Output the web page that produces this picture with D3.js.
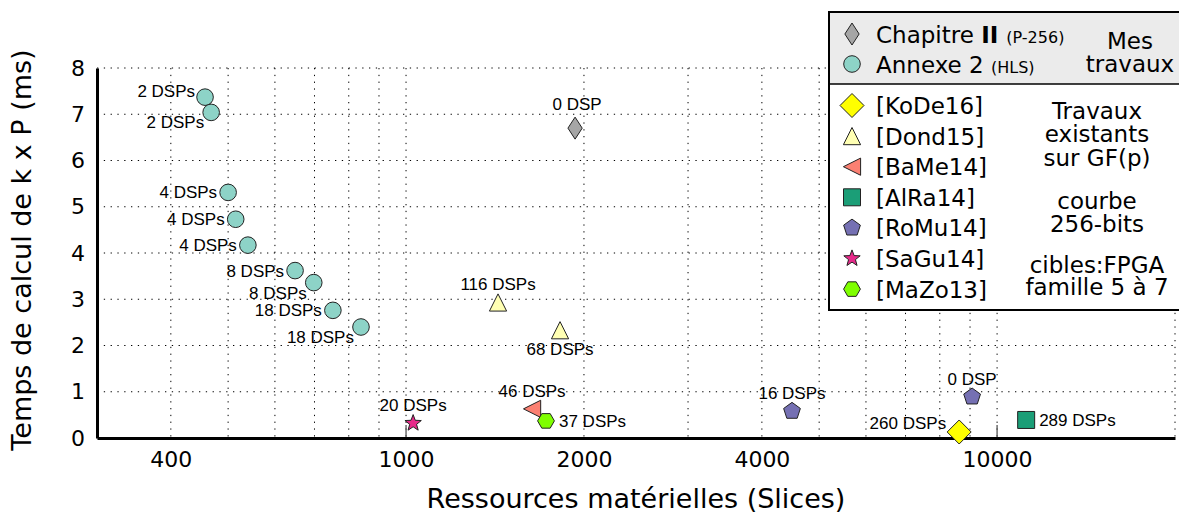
<!DOCTYPE html>
<html>
<head>
	<meta charset="utf-8">
	<title>Temps de calcul de k x P</title>
	<script src="https://d3js.org/d3.v7.min.js"></script>
	<style>
		body { margin: 0; background: #fff; }
		svg { font-family: "DejaVu Sans", sans-serif; }
		.grid line { stroke: #000; stroke-width: 1; stroke-dasharray: 1.3,5.5; }
		.axis path { stroke: #000; stroke-width: 3; }
		.axis text { font-family: "DejaVu Sans", sans-serif; font-size: 22px; fill: #000; }
		.lbl { font-family: "Liberation Sans", Arial, sans-serif; font-size: 17px; fill: #000; }
		.mark { stroke: #222; stroke-width: 1; }
		.leg { font-size: 23px; fill: #000; }
	</style>
</head>
<body>
<svg id="chart"></svg>
<script>
// ---- data ----
var xTickLabels = [400, 1000, 2000, 4000, 10000];
var yTicks = [0, 1, 2, 3, 4, 5, 6, 7, 8];

var chapX = [1932], chapY = [6.70], chapLbl = ['0 DSP'];
var annexeX = [457, 468, 500, 515, 540, 649, 698, 752, 839];
var annexeY = [7.37, 7.04, 5.31, 4.73, 4.17, 3.62, 3.36, 2.76, 2.40];
var annexeLbl = ['2 DSPs', '2 DSPs', '4 DSPs', '4 DSPs', '4 DSPs', '8 DSPs', '8 DSPs', '18 DSPs', '18 DSPs'];
var kodeX = [8627], kodeY = [0.13], kodeLbl = ['260 DSPs'];
var dondX = [1431, 1822], dondY = [2.93, 2.33], dondLbl = ['116 DSPs', '68 DSPs'];
var bameX = [1634], bameY = [0.63], bameLbl = ['46 DSPs'];
var alraX = [11200], alraY = [0.39], alraLbl = ['289 DSPs'];
var romuX = [4498, 9073], romuY = [0.58, 0.89], romuLbl = ['16 DSPs', '0 DSP'];
var saguX = [1028], saguY = [0.32], saguLbl = ['20 DSPs'];
var mazoX = [1725], mazoY = [0.37], mazoLbl = ['37 DSPs'];

// where each label sits around its marker
var annexeSide = ['ul', 'bl', 'l', 'l', 'l', 'l', 'bl', 'l', 'bl'];
var labelOffset = {
	ul: [-10, 0, 'end'],
	l:  [-11, 6, 'end'],
	bl: [-7, 16, 'end'],
	a:  [0, -12, 'middle'],
	aa: [2, -18, 'middle'],
	b:  [0, 25, 'middle'],
	r:  [13, 6, 'start'],
	lu: [-13, -3, 'end']
};

// ---- marker shapes (r = half size in px) ----
function poly(pts) { return 'M' + pts.map(function(p){ return p[0].toFixed(2)+','+p[1].toFixed(2); }).join('L') + 'Z'; }
function ngon(n, r, rot) {
	var pts = [];
	for (var i = 0; i < n; i++) { var a = rot + i * 2 * Math.PI / n; pts.push([r*Math.cos(a), r*Math.sin(a)]); }
	return poly(pts);
}
var shapes = {
	circle: function(r){ return 'M'+r+',0A'+r+','+r+' 0 1,1 '+(-r)+',0A'+r+','+r+' 0 1,1 '+r+',0Z'; },
	thinDiamond: function(r){ return poly([[0,-r],[r*0.65,0],[0,r],[-r*0.65,0]]); },
	diamond: function(r){ return poly([[0,-r],[r,0],[0,r],[-r,0]]); },
	triUp: function(r){ return poly([[0,-r],[r,r],[-r,r]]); },
	triLeft: function(r){ return poly([[-r,0],[r,-r],[r,r]]); },
	square: function(r){ return poly([[-r,-r],[r,-r],[r,r],[-r,r]]); },
	pentagon: function(r){ return ngon(5, r, -Math.PI/2); },
	hexagon: function(r){ return ngon(6, r, 0); },
	star: function(r){
		var pts = [];
		for (var i = 0; i < 10; i++) { var a = -Math.PI/2 + i*Math.PI/5, rr = i%2 ? r*0.42 : r; pts.push([rr*Math.cos(a), rr*Math.sin(a)]); }
		return poly(pts);
	}
};

var series = [
	{x: chapX, y: chapY, lbl: chapLbl, side: ['aa'], shape: 'thinDiamond', r: 11, fill: '#a6a6a6'},
	{x: annexeX, y: annexeY, lbl: annexeLbl, side: annexeSide, shape: 'circle', r: 8.3, fill: '#8dd3c7'},
	{x: dondX, y: dondY, lbl: dondLbl, side: ['a', 'b'], shape: 'triUp', r: 8.6, fill: '#ffffb3'},
	{x: bameX, y: bameY, lbl: bameLbl, side: ['a'], shape: 'triLeft', r: 8.6, fill: '#fb8072'},
	{x: alraX, y: alraY, lbl: alraLbl, side: ['r'], shape: 'square', r: 8.5, fill: '#1b9e77'},
	{x: romuX, y: romuY, lbl: romuLbl, side: ['a', 'a'], shape: 'pentagon', r: 8.8, fill: '#7570b3'},
	{x: saguX, y: saguY, lbl: saguLbl, side: ['a'], shape: 'star', r: 8.6, fill: '#e7298a'},
	{x: mazoX, y: mazoY, lbl: mazoLbl, side: ['r'], shape: 'hexagon', r: 8.4, fill: '#7fff00'},
	{x: kodeX, y: kodeY, lbl: kodeLbl, side: ['lu'], shape: 'diamond', r: 12, fill: '#ffff00'}
];

var W = 1179, H = 514;
var svg = d3.select('#chart').attr('width', W).attr('height', H);

var x = d3.scaleLog().domain([300, 20000]).range([97, 1175]);
var y = d3.scaleLinear().domain([0, 8]).range([438, 68]);

// grid
var grid = svg.append('g').attr('class', 'grid');
grid.selectAll('line.v')
	.data(x.ticks().filter(function(d){ return d > 300; }))
	.enter().append('line')
		.attr('x1', function(d){ return x(d); }).attr('x2', function(d){ return x(d); })
		.attr('y1', y(8)).attr('y2', y(0));
grid.selectAll('line.h')
	.data(yTicks.filter(function(d){ return d > 0; }))
	.enter().append('line')
		.attr('x1', x(300)).attr('x2', x(20000))
		.attr('y1', function(d){ return y(d); }).attr('y2', function(d){ return y(d); });

// decade ticks (solid, inward)
svg.append('g').selectAll('line')
	.data([1000, 10000])
	.enter().append('line')
		.attr('x1', function(d){ return x(d); }).attr('x2', function(d){ return x(d); })
		.attr('y1', y(0) - 13).attr('y2', y(0))
		.attr('stroke', '#555').attr('stroke-width', 1.3);

// axes
svg.append('g')
	.attr('class', 'axis')
	.attr('transform', 'translate(0,' + y(0) + ')')
	.call(d3.axisBottom(x).tickValues(xTickLabels).tickFormat(d3.format('d')).tickSize(0).tickPadding(13).tickSizeOuter(0))
	.call(function(g){ g.selectAll('.tick line').remove(); });
svg.append('g')
	.attr('class', 'axis')
	.attr('transform', 'translate(' + x(300) + ',0)')
	.call(d3.axisLeft(y).tickValues(yTicks).tickSize(0).tickPadding(12).tickSizeOuter(0))
	.call(function(g){ g.selectAll('.tick line').remove(); });

// axis titles
svg.append('text')
	.attr('x', 636).attr('y', 508)
	.attr('text-anchor', 'middle')
	.style('font-size', '27px')
	.text('Ressources matérielles (Slices)');
svg.append('text')
	.attr('transform', 'translate(31,250) rotate(-90)')
	.attr('text-anchor', 'middle')
	.style('font-size', '27px')
	.text('Temps de calcul de k x P (ms)');

// marks + labels
series.forEach(function(s){
	var pts = s.x.map(function(v, i){ return {x: v, y: s.y[i], lbl: s.lbl[i], side: s.side[i]}; });
	var g = svg.append('g');
	g.selectAll('path')
		.data(pts)
		.enter().append('path')
			.attr('class', 'mark')
			.attr('d', shapes[s.shape](s.r))
			.attr('fill', s.fill)
			.attr('transform', function(d){ return 'translate(' + x(d.x) + ',' + y(d.y) + ')'; });
	g.selectAll('text')
		.data(pts)
		.enter().append('text')
			.attr('class', 'lbl')
			.attr('x', function(d){ return x(d.x) + labelOffset[d.side][0]; })
			.attr('y', function(d){ return y(d.y) + labelOffset[d.side][1]; })
			.attr('text-anchor', function(d){ return labelOffset[d.side][2]; })
			.text(function(d){ return d.lbl; });
});

// legend
var leg = svg.append('g');
leg.append('rect').attr('x', 829).attr('y', 12).attr('width', 360).attr('height', 298)
	.attr('fill', '#fff').attr('stroke', '#000').attr('stroke-width', 2);
leg.append('rect').attr('x', 830).attr('y', 13).attr('width', 358).attr('height', 71)
	.attr('fill', '#ebebeb');
leg.append('line').attr('x1', 829).attr('x2', 1189).attr('y1', 84).attr('y2', 84)
	.attr('stroke', '#000').attr('stroke-width', 1.5);

var mine = [
	{s: series[0], name: 'Chapitre ', bold: 'II', small: '(P-256)', yb: 43},
	{s: series[1], name: 'Annexe 2 ', bold: '', small: '(HLS)', yb: 73}
];
mine.forEach(function(m){
	leg.append('path').attr('class', 'mark').attr('d', shapes[m.s.shape](m.s.r))
		.attr('fill', m.s.fill).attr('transform', 'translate(852,' + (m.yb - 9) + ')');
	var t = leg.append('text').attr('class', 'leg').attr('x', 876).attr('y', m.yb);
	t.append('tspan').text(m.name);
	if (m.bold) t.append('tspan').style('font-weight', 'bold').text(m.bold + ' ');
	t.append('tspan').style('font-size', '16px').text(m.small);
});

var others = [
	{s: series[8], name: '[KoDe16]'},
	{s: series[2], name: '[Dond15]'},
	{s: series[3], name: '[BaMe14]'},
	{s: series[4], name: '[AlRa14]'},
	{s: series[5], name: '[RoMu14]'},
	{s: series[6], name: '[SaGu14]'},
	{s: series[7], name: '[MaZo13]'}
];
others.forEach(function(o, i){
	var yb = 114 + i * 30.6;
	leg.append('path').attr('class', 'mark').attr('d', shapes[o.s.shape](o.s.r))
		.attr('fill', o.s.fill).attr('transform', 'translate(852,' + (yb - 8.5) + ')');
	leg.append('text').attr('class', 'leg').attr('x', 876).attr('y', yb).text(o.name);
});

var notes = [
	{t: 'Mes', x: 1130, y: 49}, {t: 'travaux', x: 1130, y: 72},
	{t: 'Travaux', x: 1097, y: 119}, {t: 'existants', x: 1097, y: 142}, {t: 'sur GF(p)', x: 1097, y: 166},
	{t: 'courbe', x: 1097, y: 209}, {t: '256-bits', x: 1097, y: 232},
	{t: 'cibles:FPGA', x: 1097, y: 273}, {t: 'famille 5 à 7', x: 1097, y: 295}
];
leg.selectAll('text.note')
	.data(notes)
	.enter().append('text')
		.attr('class', 'leg note')
		.attr('x', function(d){ return d.x; }).attr('y', function(d){ return d.y; })
		.attr('text-anchor', 'middle')
		.text(function(d){ return d.t; });
</script>
</body>
</html>
